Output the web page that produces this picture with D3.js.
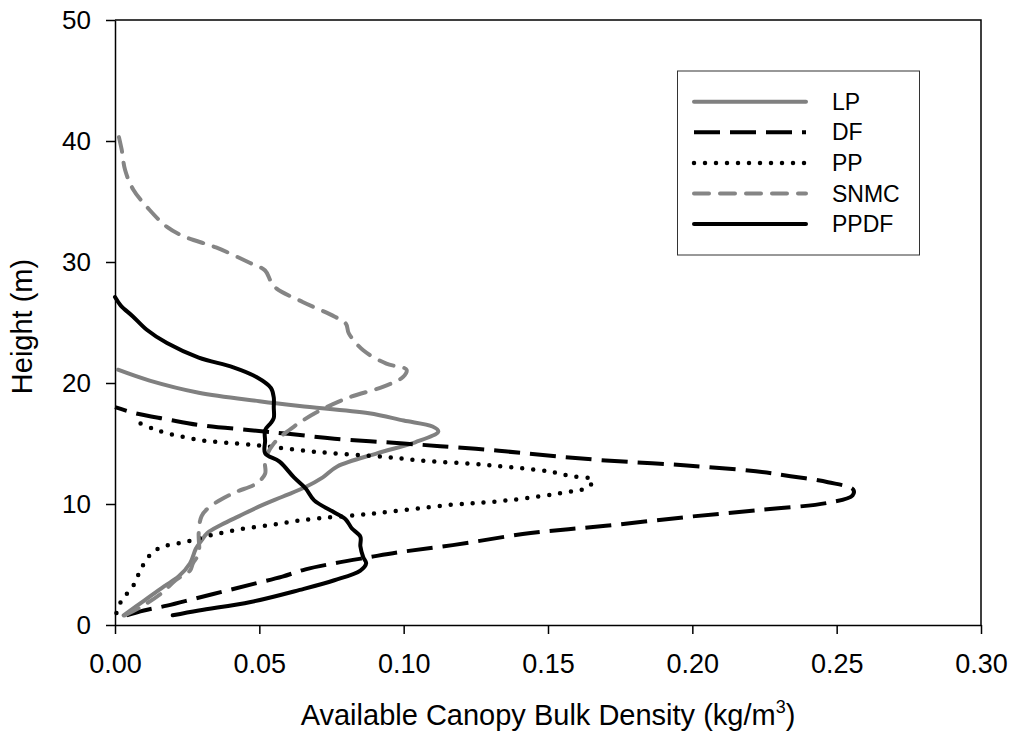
<!DOCTYPE html>
<html>
<head>
<meta charset="utf-8">
<script src="https://cdn.jsdelivr.net/npm/d3@7"></script>
<style>
  html, body { margin: 0; padding: 0; background: #fff; }
  svg { display: block; font-family: "Liberation Sans", Arial, sans-serif; }
</style>
</head>
<body>
<svg id="chart" width="1011" height="741"></svg>
<script>
// Canopy bulk density profiles: height (m) vs available CBD (kg/m3)
const lpHeight = [0.8, 2.0, 3.2, 4.0, 5.1, 6.3, 7.0, 7.6, 8.3, 9.0, 9.8, 10.6, 11.4, 12.2, 13.1, 14.2, 15.1, 16.0, 16.4, 16.9, 17.5, 18.1, 18.5, 19.2, 20.2, 21.1];
const lpDensity = [0.003, 0.010, 0.017, 0.022, 0.026, 0.028, 0.030, 0.032, 0.037, 0.043, 0.050, 0.058, 0.066, 0.072, 0.077, 0.091, 0.104, 0.112, 0.110, 0.100, 0.088, 0.064, 0.050, 0.029, 0.012, 0.001];

const dfHeight = [0.8, 1.2, 1.6, 2.2, 2.8, 3.4, 4.0, 4.6, 5.1, 5.6, 6.0, 6.6, 7.6, 8.2, 8.9, 9.5, 10.1, 10.7, 11.2, 11.8, 12.3, 12.7, 13.2, 13.6, 14.0, 14.4, 14.7, 15.0, 15.4, 15.8, 16.1, 16.5, 17.0, 17.5, 18.0];
const dfDensity = [0.004, 0.010, 0.018, 0.028, 0.038, 0.048, 0.058, 0.066, 0.076, 0.088, 0.098, 0.117, 0.144, 0.170, 0.197, 0.223, 0.247, 0.2555, 0.2557, 0.247, 0.234, 0.222, 0.197, 0.170, 0.150, 0.133, 0.117, 0.100, 0.076, 0.060, 0.047, 0.030, 0.018, 0.007, 0.000];

const ppHeight = [1.0, 1.9, 2.7, 3.5, 4.4, 5.2, 6.0, 6.5, 6.9, 7.4, 7.9, 8.3, 8.7, 9.2, 9.9, 10.3, 11.0, 11.4, 12.0, 12.3, 12.7, 13.2, 13.6, 13.9, 14.3, 14.9, 15.3, 16.1, 16.8];
const ppDensity = [0.0005, 0.002, 0.0045, 0.007, 0.0085, 0.0104, 0.013, 0.017, 0.025, 0.033, 0.043, 0.055, 0.066, 0.089, 0.115, 0.136, 0.157, 0.164, 0.1655, 0.158, 0.150, 0.130, 0.106, 0.093, 0.070, 0.047, 0.029, 0.0145, 0.0075];

const snmcHeight = [0.8, 1.5, 2.6, 3.7, 4.5, 5.1, 5.9, 7.6, 9.0, 9.8, 10.9, 11.7, 12.5, 13.6, 15.0, 16.4, 17.6, 18.8, 19.7, 20.5, 21.1, 21.6, 22.7, 24.1, 24.9, 25.5, 26.7, 27.8, 28.4, 29.3, 29.9, 31.2, 32.1, 32.9, 34.3, 36.0, 37.6, 39.3, 41.1];
const snmcDensity = [0.0035, 0.009, 0.016, 0.021, 0.026, 0.027, 0.029, 0.029, 0.030, 0.033, 0.041, 0.049, 0.052, 0.052, 0.055, 0.062, 0.070, 0.081, 0.093, 0.0998, 0.101, 0.094, 0.086, 0.081, 0.080, 0.076, 0.065, 0.056, 0.054, 0.052, 0.047, 0.035, 0.024, 0.018, 0.012, 0.0063, 0.0035, 0.0023, 0.0006];

const ppdfHeight = [0.8, 1.2, 1.9, 2.9, 3.7, 4.5, 5.1, 5.6, 6.5, 7.3, 8.0, 8.7, 9.3, 10.3, 11.3, 12.2, 13.5, 14.2, 15.2, 16.1, 16.7, 17.1, 18.0, 18.8, 19.6, 20.5, 21.3, 22.1, 23.3, 24.4, 25.5, 26.4, 27.1];
const ppdfDensity = [0.020, 0.029, 0.047, 0.064, 0.076, 0.085, 0.087, 0.086, 0.085, 0.085, 0.082, 0.080, 0.076, 0.069, 0.066, 0.062, 0.057, 0.052, 0.052, 0.052, 0.054, 0.055, 0.055, 0.055, 0.054, 0.049, 0.041, 0.029, 0.018, 0.011, 0.0062, 0.002, 0.000];

const seriesNames = ["LP", "DF", "PP", "SNMC", "PPDF"];
const xTicks = [0, 0.05, 0.10, 0.15, 0.20, 0.25, 0.30];
const yTicks = [0, 10, 20, 30, 40, 50];

// Line styles per stand type
const styles = {
  LP:   { color: "#808080", width: 4, dash: null, cap: "round" },
  DF:   { color: "#000000", width: 4, dash: "26,10", cap: "butt" },
  PP:   { color: "#000000", width: 4.5, dash: "0,11", cap: "round" },
  SNMC: { color: "#858585", width: 4, dash: "15,11", cap: "round" },
  PPDF: { color: "#000000", width: 4, dash: null, cap: "round" }
};

const series = [
  { name: "LP", h: lpHeight, v: lpDensity },
  { name: "DF", h: dfHeight, v: dfDensity },
  { name: "PP", h: ppHeight, v: ppDensity },
  { name: "SNMC", h: snmcHeight, v: snmcDensity },
  { name: "PPDF", h: ppdfHeight, v: ppdfDensity }
];

const svg = d3.select("#chart");
const plotLeft = 115, plotRight = 981, plotTop = 20, plotBottom = 625;

const x = d3.scaleLinear().domain([0, 0.30]).range([plotLeft, plotRight]);
const y = d3.scaleLinear().domain([0, 50]).range([plotBottom, plotTop]);

// Frame (top and right edges)
svg.append("path")
  .attr("d", `M${plotLeft},${plotTop}H${plotRight}V${plotBottom}`)
  .attr("fill", "none").attr("stroke", "#000").attr("stroke-width", 1.5);

// X axis
const xAxis = svg.append("g")
  .attr("transform", `translate(0,${plotBottom})`)
  .call(d3.axisBottom(x).tickValues(xTicks).tickFormat(d3.format(".2f")).tickSize(9).tickSizeOuter(0).tickPadding(20));
xAxis.select(".domain").attr("stroke-width", 1.5);
xAxis.selectAll(".tick line").attr("stroke-width", 1.5);
xAxis.selectAll("text").attr("font-size", 27).attr("font-family", "Liberation Sans, Arial, sans-serif").attr("fill", "#000");

// Y axis
const yAxis = svg.append("g")
  .attr("transform", `translate(${plotLeft},0)`)
  .call(d3.axisLeft(y).tickValues(yTicks).tickFormat(d3.format("d")).tickSize(9).tickSizeOuter(0).tickPadding(15));
yAxis.select(".domain").attr("stroke-width", 1.5);
yAxis.selectAll(".tick line").attr("stroke-width", 1.5);
yAxis.selectAll("text").attr("font-size", 26).attr("font-family", "Liberation Sans, Arial, sans-serif").attr("fill", "#000");

// Axis titles
const xTitle = svg.append("text")
  .attr("x", (plotLeft + plotRight) / 2).attr("y", 725)
  .attr("text-anchor", "middle").attr("font-size", 29);
xTitle.append("tspan").text("Available Canopy Bulk Density (kg/m");
xTitle.append("tspan").attr("font-size", 18).attr("dy", -12).text("3");
xTitle.append("tspan").attr("dy", 12).text(")");

svg.append("text")
  .attr("transform", `translate(32,${(plotTop + plotBottom) / 2 + 4}) rotate(-90)`)
  .attr("text-anchor", "middle").attr("font-size", 29)
  .text("Height (m)");

// Profile lines
const line = d3.line()
  .x(d => x(d[0]))
  .y(d => y(d[1]))
  .curve(d3.curveCatmullRom.alpha(0.5));

const plot = svg.append("g");
series.forEach(s => {
  const st = styles[s.name];
  const pts = s.v.map((v, i) => [v, s.h[i]]);
  plot.append("path")
    .datum(pts)
    .attr("d", line)
    .attr("fill", "none")
    .attr("stroke", st.color)
    .attr("stroke-width", st.width)
    .attr("stroke-linecap", st.cap)
    .attr("stroke-linejoin", "round")
    .attr("stroke-dasharray", st.dash);
});

// Legend
const legend = svg.append("g");
legend.append("rect")
  .attr("x", 677.5).attr("y", 71).attr("width", 242).attr("height", 184)
  .attr("fill", "#fff").attr("stroke", "#333").attr("stroke-width", 1);

seriesNames.forEach((name, i) => {
  const st = styles[name];
  const ly = 101.7 + i * 30.6;
  legend.append("line")
    .attr("x1", 694).attr("x2", 806).attr("y1", ly).attr("y2", ly)
    .attr("stroke", st.color).attr("stroke-width", st.width)
    .attr("stroke-linecap", st.cap).attr("stroke-dasharray", st.dash);
  legend.append("text")
    .attr("x", 832).attr("y", ly + 8)
    .attr("font-size", 23)
    .text(name);
});
</script>
</body>
</html>
